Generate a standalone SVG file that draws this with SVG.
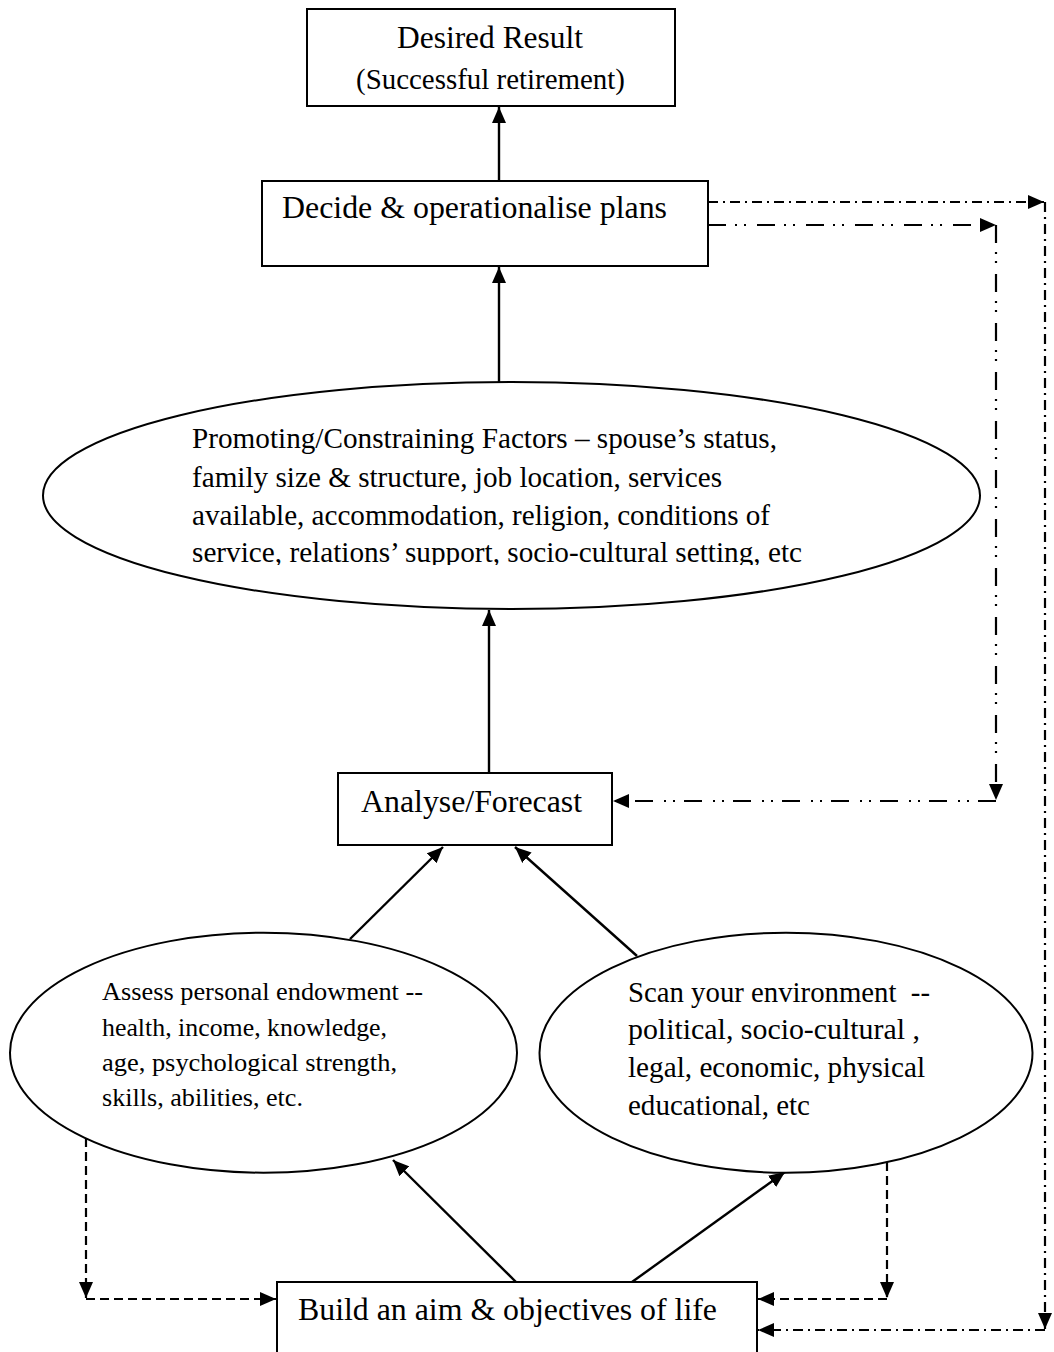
<svg xmlns="http://www.w3.org/2000/svg" width="1054" height="1352" viewBox="0 0 1054 1352">
<style>
  .box { fill: #fff; stroke: #000; stroke-width: 2; }
  .ell { fill: #fff; stroke: #000; stroke-width: 2; }
  .t { font-family: "Liberation Serif", "Times New Roman", serif; fill: #000; }
  .solid { stroke: #000; stroke-width: 2.4; fill: none; }
  .dash { stroke: #000; stroke-width: 2.2; fill: none; stroke-dasharray: 9 5; }
  .dd { stroke: #000; stroke-width: 2.2; fill: none; stroke-dasharray: 10 5 2 5; }
  .ddd { stroke: #000; stroke-width: 2.2; fill: none; stroke-dasharray: 18 9 2 7 2 11; }
</style>
<defs>
  <marker id="ah" markerUnits="userSpaceOnUse" markerWidth="17" markerHeight="14" refX="16" refY="7" orient="auto">
    <path d="M0,0 L16,7 L0,14 Z" fill="#000"/>
  </marker>
  <clipPath id="clipP">
    <rect x="0" y="380" width="1054" height="185"/>
  </clipPath>
</defs>
<rect width="1054" height="1352" fill="#fff"/>

<g id="connectors">
  <line class="solid" x1="499" y1="181" x2="499" y2="107" marker-end="url(#ah)"/>
  <line class="solid" x1="499" y1="382" x2="499" y2="267" marker-end="url(#ah)"/>
  <line class="solid" x1="489" y1="773" x2="489" y2="610" marker-end="url(#ah)"/>
  <line class="solid" x1="350" y1="939" x2="443" y2="847" marker-end="url(#ah)"/>
  <line class="solid" x1="637" y1="956" x2="515" y2="847" marker-end="url(#ah)"/>
  <line class="solid" x1="516" y1="1282" x2="393" y2="1160" marker-end="url(#ah)"/>
  <line class="solid" x1="632" y1="1282" x2="785" y2="1172" marker-end="url(#ah)"/>
  <!-- dashed left -->
  <line class="dash" x1="86" y1="1138" x2="86" y2="1298" marker-end="url(#ah)"/>
  <line class="dash" x1="86" y1="1299" x2="276" y2="1299" marker-end="url(#ah)"/>
  <!-- dashed right -->
  <line class="dash" x1="887" y1="1162" x2="887" y2="1298" marker-end="url(#ah)"/>
  <line class="dash" x1="887" y1="1299" x2="758" y2="1299" marker-end="url(#ah)"/>
  <!-- dash-dot outer loop -->
  <line class="dd" x1="708" y1="202" x2="1044" y2="202" marker-end="url(#ah)"/>
  <line class="dd" x1="1045" y1="202" x2="1045" y2="1329" marker-end="url(#ah)"/>
  <line class="dd" x1="1045" y1="1330" x2="758" y2="1330" marker-end="url(#ah)"/>
  <!-- dash-dot-dot inner loop -->
  <line class="ddd" x1="708" y1="225" x2="996" y2="225" marker-end="url(#ah)"/>
  <line class="ddd" x1="996" y1="225" x2="996" y2="800" marker-end="url(#ah)"/>
  <line class="ddd" x1="996" y1="801" x2="613" y2="801" marker-end="url(#ah)"/>
</g>

<g id="desired">
  <rect class="box" x="307" y="9" width="368" height="97"/>
  <text class="t" x="397" y="48" font-size="31" textLength="186" lengthAdjust="spacingAndGlyphs">Desired Result</text>
  <text class="t" x="356" y="89" font-size="29" textLength="269" lengthAdjust="spacingAndGlyphs">(Successful retirement)</text>
</g>

<g id="decide">
  <rect class="box" x="262" y="181" width="446" height="85"/>
  <text class="t" x="282" y="218" font-size="32" textLength="385" lengthAdjust="spacingAndGlyphs">Decide &amp; operationalise plans</text>
</g>

<g id="factors">
  <ellipse class="ell" cx="511.5" cy="495.5" rx="468.5" ry="113.5"/>
  <g clip-path="url(#clipP)" class="t" font-size="29">
    <text x="192" y="448" textLength="585" lengthAdjust="spacingAndGlyphs">Promoting/Constraining Factors – spouse’s status,</text>
    <text x="192" y="486.5" textLength="530" lengthAdjust="spacingAndGlyphs">family size &amp; structure, job location, services</text>
    <text x="192" y="525" textLength="578" lengthAdjust="spacingAndGlyphs">available, accommodation, religion, conditions of</text>
    <text x="192" y="562" textLength="610" lengthAdjust="spacingAndGlyphs">service, relations’ support, socio-cultural setting, etc</text>
  </g>
</g>

<g id="analyse">
  <rect class="box" x="338" y="773" width="274" height="72"/>
  <text class="t" x="361" y="812" font-size="32" textLength="221" lengthAdjust="spacingAndGlyphs">Analyse/Forecast</text>
</g>

<g id="assess">
  <ellipse class="ell" cx="263.5" cy="1052.7" rx="253.5" ry="120"/>
  <g class="t" font-size="26">
    <text x="102" y="1000" textLength="321" lengthAdjust="spacingAndGlyphs">Assess personal endowment --</text>
    <text x="102" y="1035.5" textLength="285" lengthAdjust="spacingAndGlyphs">health, income, knowledge,</text>
    <text x="102" y="1071" textLength="295" lengthAdjust="spacingAndGlyphs">age, psychological strength,</text>
    <text x="102" y="1106" textLength="201" lengthAdjust="spacingAndGlyphs">skills, abilities, etc.</text>
  </g>
</g>

<g id="scan">
  <ellipse class="ell" cx="786" cy="1052.7" rx="246.5" ry="120"/>
  <g class="t" font-size="29">
    <text x="628" y="1002" textLength="302" lengthAdjust="spacingAndGlyphs">Scan your environment&#160; --</text>
    <text x="628" y="1039" textLength="292" lengthAdjust="spacingAndGlyphs">political, socio-cultural ,</text>
    <text x="628" y="1077" textLength="297" lengthAdjust="spacingAndGlyphs">legal, economic, physical</text>
    <text x="628" y="1115" textLength="182" lengthAdjust="spacingAndGlyphs">educational, etc</text>
  </g>
</g>

<g id="build">
  <rect class="box" x="277" y="1282" width="480" height="90"/>
  <text class="t" x="298" y="1320" font-size="32" textLength="419" lengthAdjust="spacingAndGlyphs">Build an aim &amp; objectives of life</text>
</g>
</svg>
